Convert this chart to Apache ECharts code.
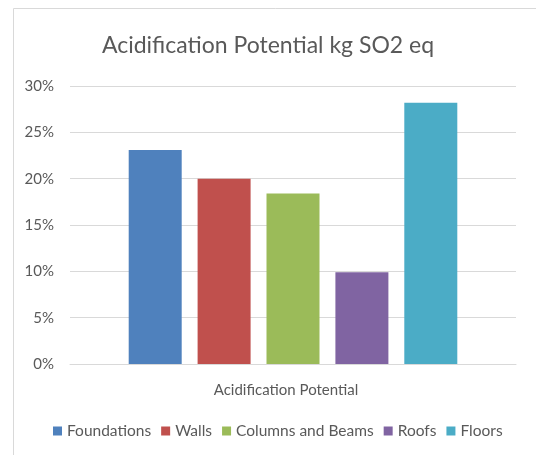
<!DOCTYPE html>
<html>
<head>
<meta charset="utf-8">
<script src="https://cdn.jsdelivr.net/npm/echarts@6/dist/echarts.min.js"></script>
<style>
  html, body { margin: 0; padding: 0; background: #fff; }
  #chart { width: 536px; height: 455px; }
</style>
</head>
<body>
<div id="chart"></div>
<script>
// Share of acidification potential (kg SO2 eq) by building element
const categories = ['Acidification Potential'];
const seriesNames = ['Foundations', 'Walls', 'Columns and Beams', 'Roofs', 'Floors'];
const foundations = [23.1];
const walls = [20.0];
const columnsAndBeams = [18.4];
const roofs = [9.9];
const floors = [28.2];
const colors = ['#4F81BD', '#C0504D', '#9BBB59', '#8064A2', '#4BACC6'];
const yTicks = [0, 5, 10, 15, 20, 25, 30];

const values = [foundations, walls, columnsAndBeams, roofs, floors];
const font = 'Lato, "Liberation Sans", sans-serif';
const textColor = '#595959';

const chart = echarts.init(document.getElementById('chart'), null, { renderer: 'canvas' });
chart.setOption({
  animation: false,
  color: colors,
  textStyle: { fontFamily: font },
  title: {
    text: 'Acidification Potential kg SO2 eq',
    left: 'center',
    top: 29,
    textStyle: { fontFamily: font, fontSize: 23, fontWeight: 'normal', color: textColor }
  },
  graphic: [{
    type: 'rect',
    shape: { x: 13.5, y: 8.5, width: 530, height: 470 },
    style: { fill: 'none', stroke: '#d9d9d9', lineWidth: 1 },
    silent: true
  }],
  legend: {
    data: seriesNames,
    bottom: 11,
    left: 48,
    itemWidth: 9,
    itemHeight: 9,
    itemGap: 10,
    icon: 'rect',
    textStyle: { fontFamily: font, fontSize: 15.5, color: textColor }
  },
  grid: { left: 70, right: 20, top: 86, bottom: 91 },
  xAxis: {
    type: 'category',
    data: categories,
    axisLine: { show: true, lineStyle: { color: '#d9d9d9' } },
    axisTick: { show: false },
    axisLabel: { fontFamily: font, fontSize: 15, color: textColor, margin: 19, padding: [0, 14, 0, 0] }
  },
  yAxis: {
    type: 'value',
    min: yTicks[0],
    max: yTicks[yTicks.length - 1],
    interval: 5,
    axisLine: { show: false },
    axisTick: { show: false },
    splitLine: { lineStyle: { color: '#d9d9d9', width: 1 } },
    axisLabel: {
      fontFamily: font, fontSize: 15, color: textColor, margin: 16,
      formatter: v => v + '%'
    }
  },
  series: seriesNames.map((name, i) => ({
    name: name,
    type: 'bar',
    data: values[i],
    barWidth: 53,
    barGap: '30%',
    itemStyle: { color: colors[i] }
  }))
});
</script>
</body>
</html>
